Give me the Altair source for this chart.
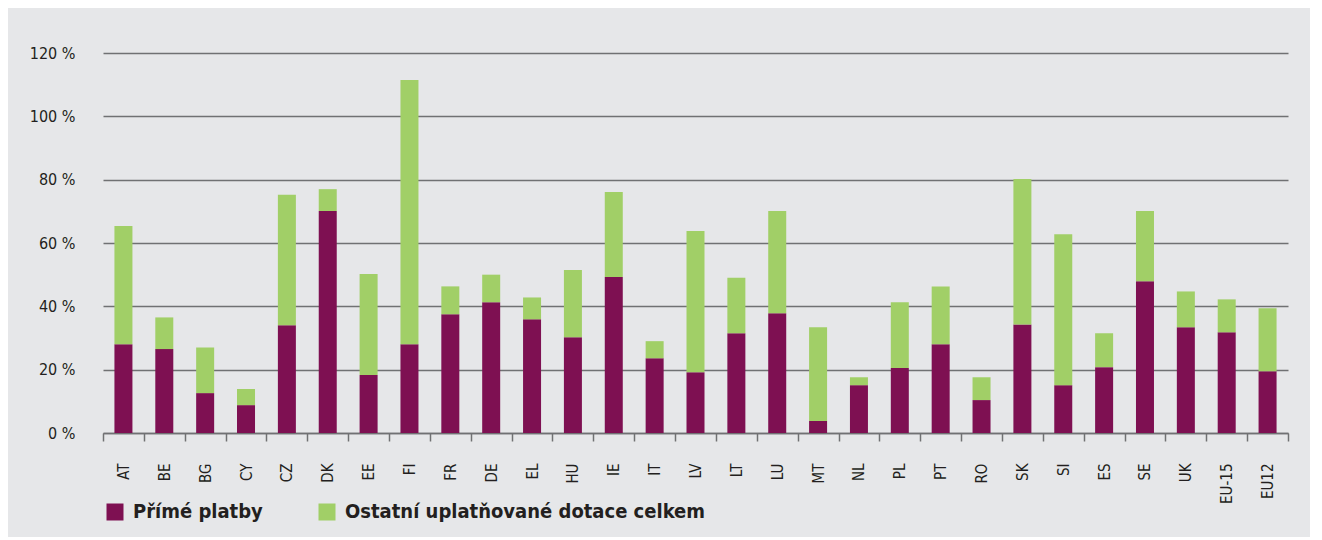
import altair as alt
import pandas as pd

countries = ["AT", "BE", "BG", "CY", "CZ", "DK", "EE", "FI", "FR", "DE", "EL", "HU", "IE", "IT",
             "LV", "LT", "LU", "MT", "NL", "PL", "PT", "RO", "SK", "SI", "ES", "SE", "UK", "EU-15", "EU12"]
direct = [28.0, 26.5, 12.6, 8.8, 34.0, 70.1, 18.3, 28.0, 37.5, 41.3, 35.9, 30.2, 49.3, 23.6,
          19.2, 31.5, 37.8, 3.8, 15.1, 20.5, 28.0, 10.4, 34.3, 15.1, 20.8, 47.9, 33.4, 31.8, 19.5]
other = [37.4, 10.0, 14.4, 5.1, 41.2, 6.9, 31.9, 83.5, 8.8, 8.7, 6.9, 21.3, 26.8, 5.4,
         44.6, 17.5, 32.3, 29.6, 2.5, 20.8, 18.3, 7.2, 45.9, 47.7, 10.7, 22.2, 11.3, 10.4, 19.9]
series_names = ["Přímé platby", "Ostatní uplatňované dotace celkem"]
colors = ["#7e1052", "#a1cf67"]

rows = []
for i, c in enumerate(countries):
    rows.append({"country": c, "series": series_names[0], "value": direct[i], "ord": 0})
    rows.append({"country": c, "series": series_names[1], "value": other[i], "ord": 1})
df = pd.DataFrame(rows)

FONT = "DejaVu Sans Condensed, sans-serif"
GRID = "#707173"

chart = alt.Chart(df).mark_bar(size=18).encode(
    x=alt.X("country:N", sort=countries,
            scale=alt.Scale(paddingInner=0, paddingOuter=0),
            axis=alt.Axis(title=None, labelAngle=270, labelAlign="right", labelBaseline="middle",
                          labelFont=FONT, labelFontSize=15, labelColor="#231f20",
                          labelPadding=22, tickBand="extent", tickSize=8, tickColor=GRID,
                          tickWidth=1.5, domainColor=GRID, domainWidth=1.5, grid=False)),
    y=alt.Y("value:Q", stack="zero", scale=alt.Scale(domain=[0, 120], nice=False),
            axis=alt.Axis(title=None, values=[0, 20, 40, 60, 80, 100, 120],
                          labelExpr="datum.value + ' %'", labelFont=FONT, labelFontSize=16,
                          labelColor="#231f20", labelPadding=28, ticks=False, domain=False,
                          grid=True, gridColor=GRID, gridWidth=1.5)),
    color=alt.Color("series:N", scale=alt.Scale(domain=series_names, range=colors),
                    legend=alt.Legend(title=None, orient="none", legendX=2, legendY=449,
                                      direction="horizontal", symbolType="square",
                                      symbolSize=289, symbolStrokeWidth=0, symbolOpacity=1,
                                      labelFont=FONT, labelFontSize=20, labelFontWeight="bold",
                                      labelColor="#231f20", labelOffset=8, columnPadding=54,
                                      padding=0, labelLimit=600)),
    order=alt.Order("ord:Q"),
).properties(
    width=1185, height=380,
    autosize=alt.AutoSizeParams(type="none"),
    padding={"left": 95, "top": 45, "right": 22, "bottom": 104},
    background="#e6e7e9",
).configure_view(stroke=None)

chart.save("out.html", embed_options={"renderer": "svg", "actions": False})
